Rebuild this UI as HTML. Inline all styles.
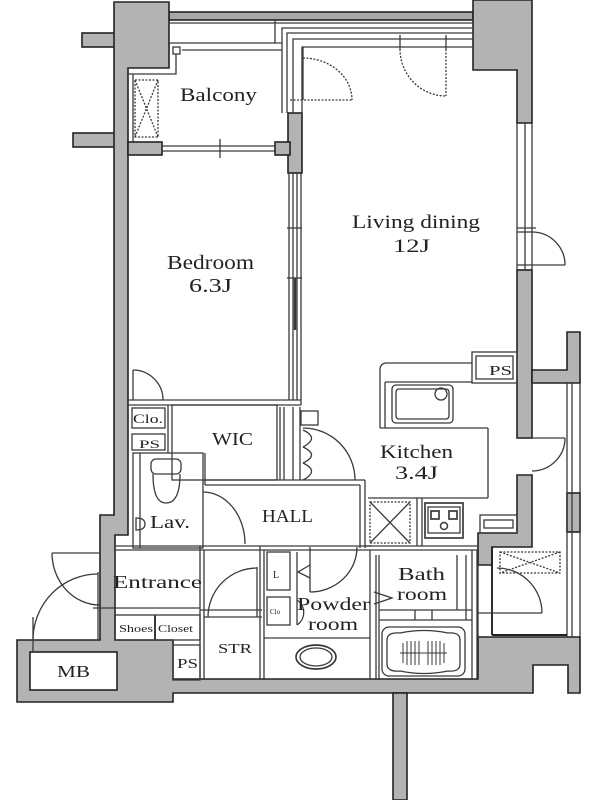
<!DOCTYPE html>
<html><head><meta charset="utf-8"><style>
html,body{margin:0;padding:0;background:#fff;}
svg{display:block}
text{font-family:"Liberation Serif",serif;fill:#222;}
</style></head><body>
<svg width="600" height="800" viewBox="0 0 600 800" xmlns="http://www.w3.org/2000/svg">
<rect width="600" height="800" fill="#fff"/>

<!-- gray walls -->
<g fill="#b3b3b3" stroke="#222" stroke-width="1.6">
 <rect x="82" y="33" width="34" height="14"/>
 <rect x="73" y="133" width="43" height="14"/>
 <rect x="169" y="12" width="304" height="8" fill="#a8a8a8"/>
 <polygon points="114,2 169,2 169,68 128,68 128,535 115,535 115,640 173,640 173,679 478,679 478,637 580,637 580,693 568,693 568,665 533,665 533,693 173,693 173,702 17,702 17,640 100,640 100,515 114,515"/>
 <polygon points="473,0 532,0 532,123 517,123 517,70 473,70"/>
 <rect x="517" y="270" width="15" height="168"/>
 <polygon points="517,475 532,475 532,547 492,547 492,565 478,565 478,533 517,533"/>
 <polygon points="532,370 567,370 567,332 580,332 580,383 532,383"/>
 <rect x="567" y="493" width="13" height="39"/>
 <rect x="288" y="113" width="14" height="60"/>
 <rect x="128" y="142" width="34" height="13"/>
 <rect x="275" y="142" width="15" height="13"/>
 <rect x="393" y="693" width="14" height="107"/>
</g>
<rect x="30" y="652" width="87" height="38" fill="#fff" stroke="#222" stroke-width="1.6"/>

<!-- thin lines -->
<g fill="none" stroke="#3a3a3a" stroke-width="1.3">
 <!-- top lines -->
 <line x1="169" y1="23" x2="473" y2="23"/>
 <line x1="275" y1="20" x2="275" y2="43"/>
 <polyline points="282,113 282,28 473,28"/>
 <polyline points="287,113 287,33 473,33"/>
 <polyline points="293,113 293,39 473,39"/>
 <polyline points="302,113 302,47 473,47"/>
 <line x1="169" y1="43" x2="282" y2="43"/>
 <line x1="182" y1="50" x2="282" y2="50"/>
 <rect x="173" y="47" width="7" height="7"/>
 <polyline points="176,54 176,74 128,74"/>
 <line x1="133" y1="74" x2="133" y2="142"/>
 <!-- balcony X box -->
 <rect x="135" y="80" width="23" height="57" stroke-dasharray="2,1.5"/>
 <line x1="135" y1="80" x2="158" y2="137" stroke-dasharray="2,1.5"/>
 <line x1="158" y1="80" x2="135" y2="137" stroke-dasharray="2,1.5"/>
 <!-- bedroom window -->
 <line x1="162" y1="146" x2="275" y2="146"/>
 <line x1="162" y1="151" x2="275" y2="151"/>
 <line x1="220" y1="139" x2="220" y2="158"/>
 <!-- partition -->
 <line x1="289" y1="173" x2="289" y2="400"/>
 <line x1="293" y1="173" x2="293" y2="400"/>
 <line x1="297" y1="173" x2="297" y2="400"/>
 <line x1="301" y1="173" x2="301" y2="405"/>
 <line x1="287" y1="228" x2="302" y2="228"/>
 <line x1="287" y1="278" x2="302" y2="278"/>
 <line x1="295" y1="278" x2="295" y2="330" stroke-width="2.5"/>
 <!-- living doors -->
 <path d="M303,58 A49,42 0 0 1 352,100" stroke-dasharray="2,1.5"/>
 <line x1="290" y1="100" x2="352" y2="100" stroke-dasharray="2,1.5"/>
 <line x1="303" y1="47" x2="303" y2="100"/>
 <line x1="400" y1="35" x2="400" y2="49"/>
 <line x1="446" y1="35" x2="446" y2="49"/>
 <path d="M400,49 A46,47 0 0 0 446,96" stroke-dasharray="2,1.5"/>
 <line x1="446" y1="49" x2="446" y2="96" stroke-dasharray="2,1.5"/>
 <!-- right wall windows/doors -->
 <line x1="517" y1="123" x2="517" y2="270"/>
 <line x1="525" y1="123" x2="525" y2="270"/>
 <line x1="532" y1="123" x2="532" y2="270"/>
 <line x1="517" y1="228" x2="536" y2="228"/>
 <line x1="517" y1="232" x2="532" y2="232"/>
 <line x1="517" y1="265" x2="565" y2="265"/>
 <path d="M532,232 A33,33 0 0 1 565,265"/>
 <line x1="517" y1="438" x2="565" y2="438"/>
 <line x1="517" y1="475" x2="532" y2="475"/>
 <path d="M565,438 A33,33 0 0 1 532,471"/>
 <line x1="567" y1="383" x2="567" y2="637"/>
 <line x1="572" y1="383" x2="572" y2="637"/>
 <line x1="580" y1="383" x2="580" y2="637"/>
 <!-- bedroom bottom -->
 <line x1="128" y1="400" x2="301" y2="400"/>
 <line x1="128" y1="405" x2="301" y2="405"/>
 <!-- clo door -->
 <line x1="133" y1="370" x2="133" y2="400"/>
 <path d="M133,370 A30,30 0 0 1 163,400"/>
 <rect x="132" y="408" width="33" height="20"/>
 <rect x="132" y="434" width="33" height="16"/>
 <!-- WIC -->
 <line x1="168" y1="405" x2="168" y2="453"/>
 <rect x="172" y="405" width="105" height="75"/>
 <!-- closet between WIC & kitchen -->
 <line x1="280" y1="407" x2="280" y2="480"/>
 <line x1="284" y1="407" x2="284" y2="480"/>
 <line x1="293" y1="407" x2="293" y2="480"/>
 <line x1="300" y1="407" x2="300" y2="480"/>
 <rect x="301" y="411" width="17" height="14"/>
 <path d="M303,430 Q320,438 303,447 M303,447 Q320,455 303,463 M303,463 Q320,471 303,480"/>
 <path d="M303,428 A52,52 0 0 1 355,480"/>
 <!-- Lav -->
 <rect x="133" y="453" width="70" height="95"/>
 <line x1="140" y1="453" x2="140" y2="548"/>
 <line x1="205" y1="453" x2="205" y2="485"/>
 <rect x="151" y="459" width="30" height="15" rx="5"/>
 <path d="M153,474 Q153,503 166,503 Q180,503 180,474"/>
 <path d="M136,518 Q145,518 145,524 Q145,530 136,530 Z"/>
 <path d="M203,492 A42,52 0 0 1 245,544"/>
 <!-- HALL -->
 <line x1="205" y1="480" x2="365" y2="480"/>
 <line x1="205" y1="485" x2="360" y2="485"/>
 <line x1="360" y1="485" x2="360" y2="548"/>
 <line x1="365" y1="480" x2="365" y2="548"/>
 <line x1="115" y1="546" x2="372" y2="546"/>
 <line x1="115" y1="550" x2="372" y2="550"/>
 <!-- Kitchen -->
 <path d="M380,428 L380,370 Q380,363 387,363 L472,363"/>
 <line x1="385" y1="382" x2="472" y2="382"/>
 <line x1="385" y1="382" x2="385" y2="428"/>
 <line x1="380" y1="428" x2="488" y2="428"/>
 <line x1="488" y1="428" x2="488" y2="498"/>
 <line x1="368" y1="498" x2="488" y2="498"/>
 <rect x="472" y="352" width="45" height="31"/>
 <rect x="476" y="356" width="37" height="23"/>
 <rect x="392" y="385" width="61" height="38" rx="4"/>
 <rect x="396" y="389" width="53" height="30" rx="3"/>
 <circle cx="441" cy="394" r="6"/>
 <rect x="370" y="502" width="40" height="41" stroke-dasharray="2,1.5"/>
 <line x1="370" y1="502" x2="410" y2="543"/>
 <line x1="410" y1="502" x2="370" y2="543"/>
 <line x1="417" y1="498" x2="417" y2="546"/>
 <line x1="422" y1="498" x2="422" y2="546"/>
 <rect x="425" y="503" width="38" height="35" stroke-width="1.7"/>
 <rect x="428" y="507" width="32" height="26"/>
 <rect x="431" y="511" width="8" height="8" stroke-width="1.7"/>
 <rect x="449" y="511" width="8" height="8" stroke-width="1.7"/>
 <circle cx="444" cy="526" r="3.5" stroke-width="1.5"/>
 <line x1="365" y1="546" x2="478" y2="546"/>
 <rect x="480" y="515" width="37" height="18"/>
 <rect x="484" y="520" width="29" height="8"/>
 <!-- bath -->
 <line x1="372" y1="550" x2="478" y2="550"/>
 <line x1="370" y1="550" x2="370" y2="680"/>
 <line x1="376" y1="555" x2="376" y2="680"/>
 <line x1="379" y1="555" x2="379" y2="680"/>
 <line x1="457" y1="555" x2="457" y2="610"/>
 <line x1="466" y1="555" x2="466" y2="620"/>
 <line x1="472" y1="550" x2="472" y2="680"/>
 <line x1="477" y1="550" x2="477" y2="680"/>
 <line x1="379" y1="610" x2="472" y2="610"/>
 <line x1="379" y1="620" x2="472" y2="620"/>
 <line x1="415" y1="610" x2="415" y2="620"/>
 <line x1="432" y1="610" x2="432" y2="620"/>
 <rect x="382" y="627" width="83" height="49" rx="7"/>
 <path d="M387,640 Q387,632 400,633 Q424,628 448,633 Q460,632 460,640 L460,664 Q460,672 448,671 Q424,676 400,671 Q387,672 387,664 Z"/>
 <g stroke-width="1">
  <line x1="403" y1="643" x2="403" y2="663"/><line x1="407" y1="641" x2="407" y2="665"/>
  <line x1="411" y1="641" x2="411" y2="665"/><line x1="415" y1="641" x2="415" y2="665"/>
  <line x1="419" y1="641" x2="419" y2="665"/><line x1="428" y1="641" x2="428" y2="665"/>
  <line x1="432" y1="641" x2="432" y2="665"/><line x1="436" y1="641" x2="436" y2="665"/>
  <line x1="440" y1="641" x2="440" y2="665"/><line x1="444" y1="643" x2="444" y2="663"/>
  <line x1="400" y1="653" x2="447" y2="653"/>
 </g>
 <polyline points="374,592 392,598 374,604"/>
 <!-- powder -->
 <line x1="260" y1="546" x2="260" y2="680"/>
 <line x1="264" y1="550" x2="264" y2="680"/>
 <rect x="267" y="552" width="23" height="38"/>
 <rect x="267" y="597" width="23" height="28"/>
 <line x1="297" y1="552" x2="297" y2="625"/>
 <polyline points="310,565 298,572 310,578"/>
 <line x1="310" y1="547" x2="310" y2="592"/>
 <path d="M357,547 A47,45 0 0 1 310,592"/>
 <path d="M297,600 A15,15 0 0 1 297,625"/>
 <line x1="264" y1="638" x2="370" y2="638"/>
 <ellipse cx="316" cy="657" rx="20" ry="12" stroke-width="1.7"/>
 <ellipse cx="316" cy="657" rx="16" ry="9"/>
 <!-- STR / PS -->
 <line x1="200" y1="546" x2="200" y2="680"/>
 <line x1="204" y1="550" x2="204" y2="680"/>
 <line x1="200" y1="610" x2="262" y2="610"/>
 <line x1="204" y1="617" x2="262" y2="617"/>
 <line x1="257" y1="567" x2="257" y2="617"/>
 <path d="M257,568 A49,49 0 0 0 208,617"/>
 <rect x="173" y="645" width="27" height="35"/>
 <!-- entrance -->
 <line x1="115" y1="550" x2="115" y2="640"/>
 <line x1="93" y1="608" x2="200" y2="608"/>
 <rect x="115" y="615" width="85" height="25"/>
 <line x1="155" y1="615" x2="155" y2="640" stroke-width="2"/>
 <line x1="52" y1="553" x2="100" y2="553"/>
 <path d="M52,553 A48,52 0 0 0 100,605"/>
 <line x1="98" y1="572" x2="98" y2="640"/>
 <path d="M98,574 A65,66 0 0 0 33,640"/>
 <line x1="33" y1="617" x2="33" y2="652"/>
 <!-- bottom right room -->
 <line x1="478" y1="565" x2="478" y2="637"/>
 <line x1="492" y1="547" x2="492" y2="635" stroke="#222" stroke-width="1.9"/>
 <line x1="492" y1="635" x2="567" y2="635" stroke="#222" stroke-width="1.9"/>
 <rect x="500" y="552" width="60" height="21" stroke-dasharray="2,1.5"/>
 <line x1="500" y1="552" x2="560" y2="573" stroke-dasharray="2,1.5"/>
 <line x1="560" y1="552" x2="500" y2="573" stroke-dasharray="2,1.5"/>
 <line x1="478" y1="613" x2="542" y2="613"/>
 <path d="M497,568 A45,45 0 0 1 542,613"/>
</g>

<!-- labels -->
<text x="180" y="101" font-size="19" textLength="77" lengthAdjust="spacingAndGlyphs">Balcony</text>
<text x="167" y="269" font-size="20" textLength="87" lengthAdjust="spacingAndGlyphs">Bedroom</text>
<text x="189" y="292" font-size="20" textLength="43" lengthAdjust="spacingAndGlyphs">6.3J</text>
<text x="352" y="228" font-size="19" textLength="128" lengthAdjust="spacingAndGlyphs">Living dining</text>
<text x="393" y="252" font-size="19" textLength="37" lengthAdjust="spacingAndGlyphs">12J</text>
<text x="212" y="445" font-size="18" textLength="41" lengthAdjust="spacingAndGlyphs">WIC</text>
<text x="262" y="522" font-size="18" textLength="51" lengthAdjust="spacingAndGlyphs">HALL</text>
<text x="150" y="528" font-size="18" textLength="40" lengthAdjust="spacingAndGlyphs">Lav.</text>
<text x="380" y="458" font-size="19" textLength="73" lengthAdjust="spacingAndGlyphs">Kitchen</text>
<text x="395" y="479" font-size="19" textLength="43" lengthAdjust="spacingAndGlyphs">3.4J</text>
<text x="489" y="375" font-size="14" textLength="23" lengthAdjust="spacingAndGlyphs">PS</text>
<text x="133" y="423" font-size="13" textLength="30" lengthAdjust="spacingAndGlyphs">Clo.</text>
<text x="139" y="448" font-size="12" textLength="21" lengthAdjust="spacingAndGlyphs">PS</text>
<text x="113" y="588" font-size="18" textLength="89" lengthAdjust="spacingAndGlyphs">Entrance</text>
<text x="119" y="632" font-size="11" textLength="34" lengthAdjust="spacingAndGlyphs">Shoes</text>
<text x="158" y="632" font-size="11" textLength="35" lengthAdjust="spacingAndGlyphs">Closet</text>
<text x="177" y="668" font-size="14" textLength="21" lengthAdjust="spacingAndGlyphs">PS</text>
<text x="218" y="653" font-size="14" textLength="34" lengthAdjust="spacingAndGlyphs">STR</text>
<text x="57" y="677" font-size="17" textLength="33" lengthAdjust="spacingAndGlyphs">MB</text>
<text x="398" y="580" font-size="18" textLength="47" lengthAdjust="spacingAndGlyphs">Bath</text>
<text x="397" y="600" font-size="18" textLength="50" lengthAdjust="spacingAndGlyphs">room</text>
<text x="297" y="610" font-size="18" textLength="73" lengthAdjust="spacingAndGlyphs">Powder</text>
<text x="308" y="630" font-size="18" textLength="50" lengthAdjust="spacingAndGlyphs">room</text>
<text x="273" y="578" font-size="10">L</text>
<text x="270" y="614" font-size="7">Clo</text>
</svg>
</body></html>
